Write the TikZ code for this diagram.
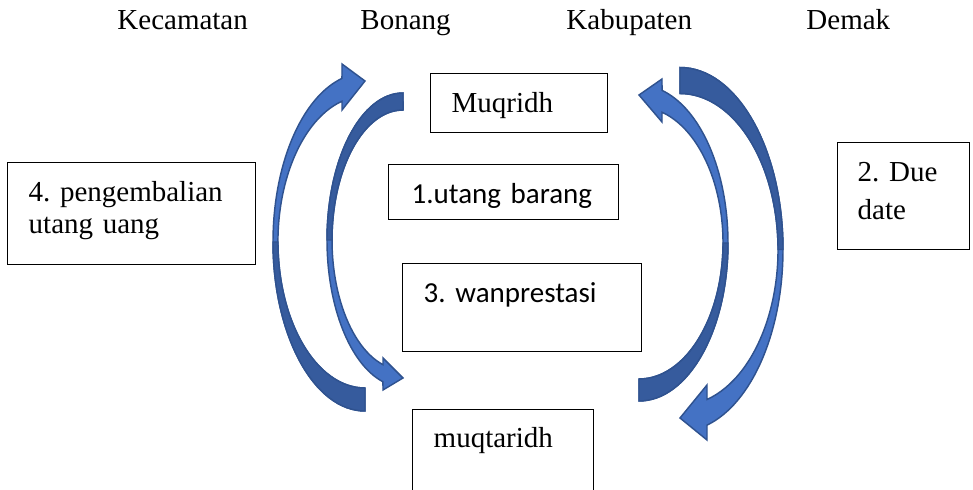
\documentclass[tikz,border=0pt]{standalone}
\usepackage{fontspec}
\setmainfont{Liberation Serif}
\setsansfont{Carlito}
\usetikzlibrary{positioning}
\frenchspacing

\definecolor{arrowlight}{HTML}{4472C4}
\definecolor{arrowdark}{HTML}{365B9D}
\definecolor{arrowedge}{HTML}{2F528F}

\begin{document}
\begin{tikzpicture}[x=0.414pt, y=-0.414pt]
\tikzset{textbox/.style =
        {
            draw,
            line width=0.6pt,
            anchor=north west,
            inner ysep=0pt,
            align=left,
            font=\fontsize{12}{13.25}\selectfont
        }
}

\tikzset{sans/.style = { font=\fontsize{12}{13.25}\selectfont\sffamily } }

\tikzset{heading/.style =
        {
            anchor=base west,
            inner sep=0pt,
            font=\fontsize{12}{14}\selectfont
        }
}

\tikzset{arrow light/.style =
        {
            line width=0.6pt,
            draw=arrowedge,
            fill=arrowlight
        }
}

\tikzset{arrow dark/.style = { arrow light, fill=arrowdark } }

\useasboundingbox (0,0) rectangle (973,490);

% place names on top
\foreach \word / \xpos in
    {Kecamatan/117,
        Bonang/360,
        Kabupaten/566,
        Demak/806}
\node[heading] (head-\word) at (\xpos,30) {\word};

% left pair of arrows
\draw[arrow light] (365,411) arc[start angle=90, end angle=255.5, x radius=92, y radius=169]
    -- (342,64) -- (365,81) -- (342,110) -- (342,101.2)
    arc[start angle=254.7, end angle=90, x radius=87, y radius=146] -- cycle;
\draw[arrow dark] (365,411) arc[start angle=90, end angle=180, x radius=92, y radius=169]
    -- (278,242) arc[start angle=180, end angle=90, x radius=87, y radius=146] -- cycle;

\draw[arrow light] (403,93) arc[start angle=270, end angle=105.3, x radius=76, y radius=147]
    -- (383,390) -- (403,378) -- (383,358) -- (383,364.7)
    arc[start angle=106.4, end angle=270, x radius=71, y radius=130] -- cycle;
\draw[arrow dark] (403,93) arc[start angle=270, end angle=180, x radius=76, y radius=147]
    -- (332,240) arc[start angle=180, end angle=270, x radius=71, y radius=130] -- cycle;

% right pair of arrows
\draw[arrow light] (639,401) arc[start angle=90, end angle=-75, x radius=89, y radius=158]
    -- (662,79) -- (639,95) -- (662,122) -- (662,112.2)
    arc[start angle=-74.1, end angle=90, x radius=84, y radius=136] -- cycle;
\draw[arrow dark] (639,401) arc[start angle=90, end angle=0, x radius=89, y radius=158]
    -- (723,243) arc[start angle=0, end angle=90, x radius=84, y radius=136] -- cycle;

\draw[arrow light] (680,67.5) arc[start angle=-90, end angle=74.8, x radius=103, y radius=182]
    -- (707,440) -- (680,418) -- (707,385) -- (707,399.5)
    arc[start angle=74, end angle=-90, x radius=98, y radius=156] -- cycle;
\draw[arrow dark] (680,67.5) arc[start angle=-90, end angle=0, x radius=103, y radius=182]
    -- (778,249.5) arc[start angle=0, end angle=-90, x radius=98, y radius=156] -- cycle;

% boxes
\node[textbox, inner xsep=8.69pt, text width=55.89pt, text height=16.15pt, text depth=8.28pt]
    (muqridh) at (430,73) {Muqridh};
\node[textbox, sans, inner xsep=9.52pt, text width=76.18pt, text height=16.15pt, text depth=6.62pt]
    (utang) at (388,164) {1.utang barang};
\node[textbox, sans, inner xsep=8.69pt, text width=81.56pt, text height=16.15pt, text depth=20.29pt]
    (wanprestasi) at (402,263) {3. wanprestasi};
\node[textbox, inner xsep=8.69pt, text width=57.55pt, text height=15.73pt, text depth=26.08pt]
    (muqtaridh) at (412,409) {muqtaridh};
\node[textbox, inner xsep=8.69pt, text width=85.28pt, text height=16.15pt, text depth=26.08pt]
    (pengembalian) at (7,162) {4. pengembalian\\utang uang};
\node[textbox, font=\fontsize{12}{15.7}\selectfont, inner xsep=8.28pt, text width=38.09pt,
    text height=16.15pt, text depth=28.15pt]
    (duedate) at (837,142) {2. Due\\date};

\end{tikzpicture}
\end{document}
